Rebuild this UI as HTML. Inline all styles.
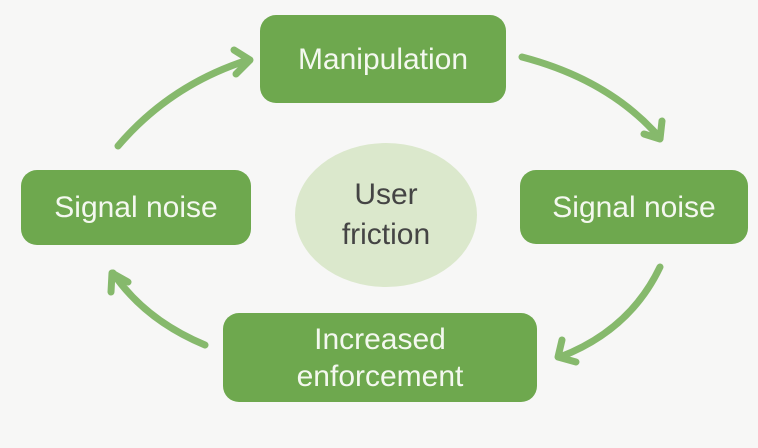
<!DOCTYPE html>
<html><head><meta charset="utf-8"><style>
html,body{margin:0;padding:0;background:#f7f7f6;}
body{width:758px;height:448px;position:relative;overflow:hidden;font-family:"Liberation Sans","DejaVu Sans",sans-serif;}
.b{position:absolute;background:#6ea84e;border-radius:16px;color:#f4f8ef;display:flex;align-items:center;justify-content:center;text-align:center;font-size:30px;line-height:37px;}
.c{position:absolute;left:295px;top:143px;width:182px;height:144px;border-radius:50%;background:#dbe8cc;color:#444;display:flex;align-items:center;justify-content:center;text-align:center;font-size:30px;line-height:40px;}
svg{position:absolute;left:0;top:0;}
</style></head><body>
<svg width="758" height="448" viewBox="0 0 758 448">
<g fill="none" stroke="#86b96c" stroke-width="7" stroke-linecap="round" stroke-linejoin="round">
<path d="M118 146 Q170 85 248 60"/><path d="M234 50 L250 60 L236 74"/>
<path d="M522 57 Q610 80 660 138"/><path d="M644 134 L660 139 L662 121"/>
<path d="M660 267 Q630 330 560 357"/><path d="M562 340 L558 357 L576 362"/>
<path d="M205 345 Q145 320 113 273"/><path d="M111 292 L112 273 L128 282"/>
</g>
</svg>
<div class="b" style="left:260px;top:15px;width:246px;height:88px;">Manipulation</div>
<div class="b" style="left:21px;top:170px;width:230px;height:75px;">Signal noise</div>
<div class="b" style="left:520px;top:170px;width:228px;height:74px;">Signal noise</div>
<div class="b" style="left:223px;top:313px;width:314px;height:89px;">Increased<br>enforcement</div>
<div class="c">User<br>friction</div>
</body></html>
